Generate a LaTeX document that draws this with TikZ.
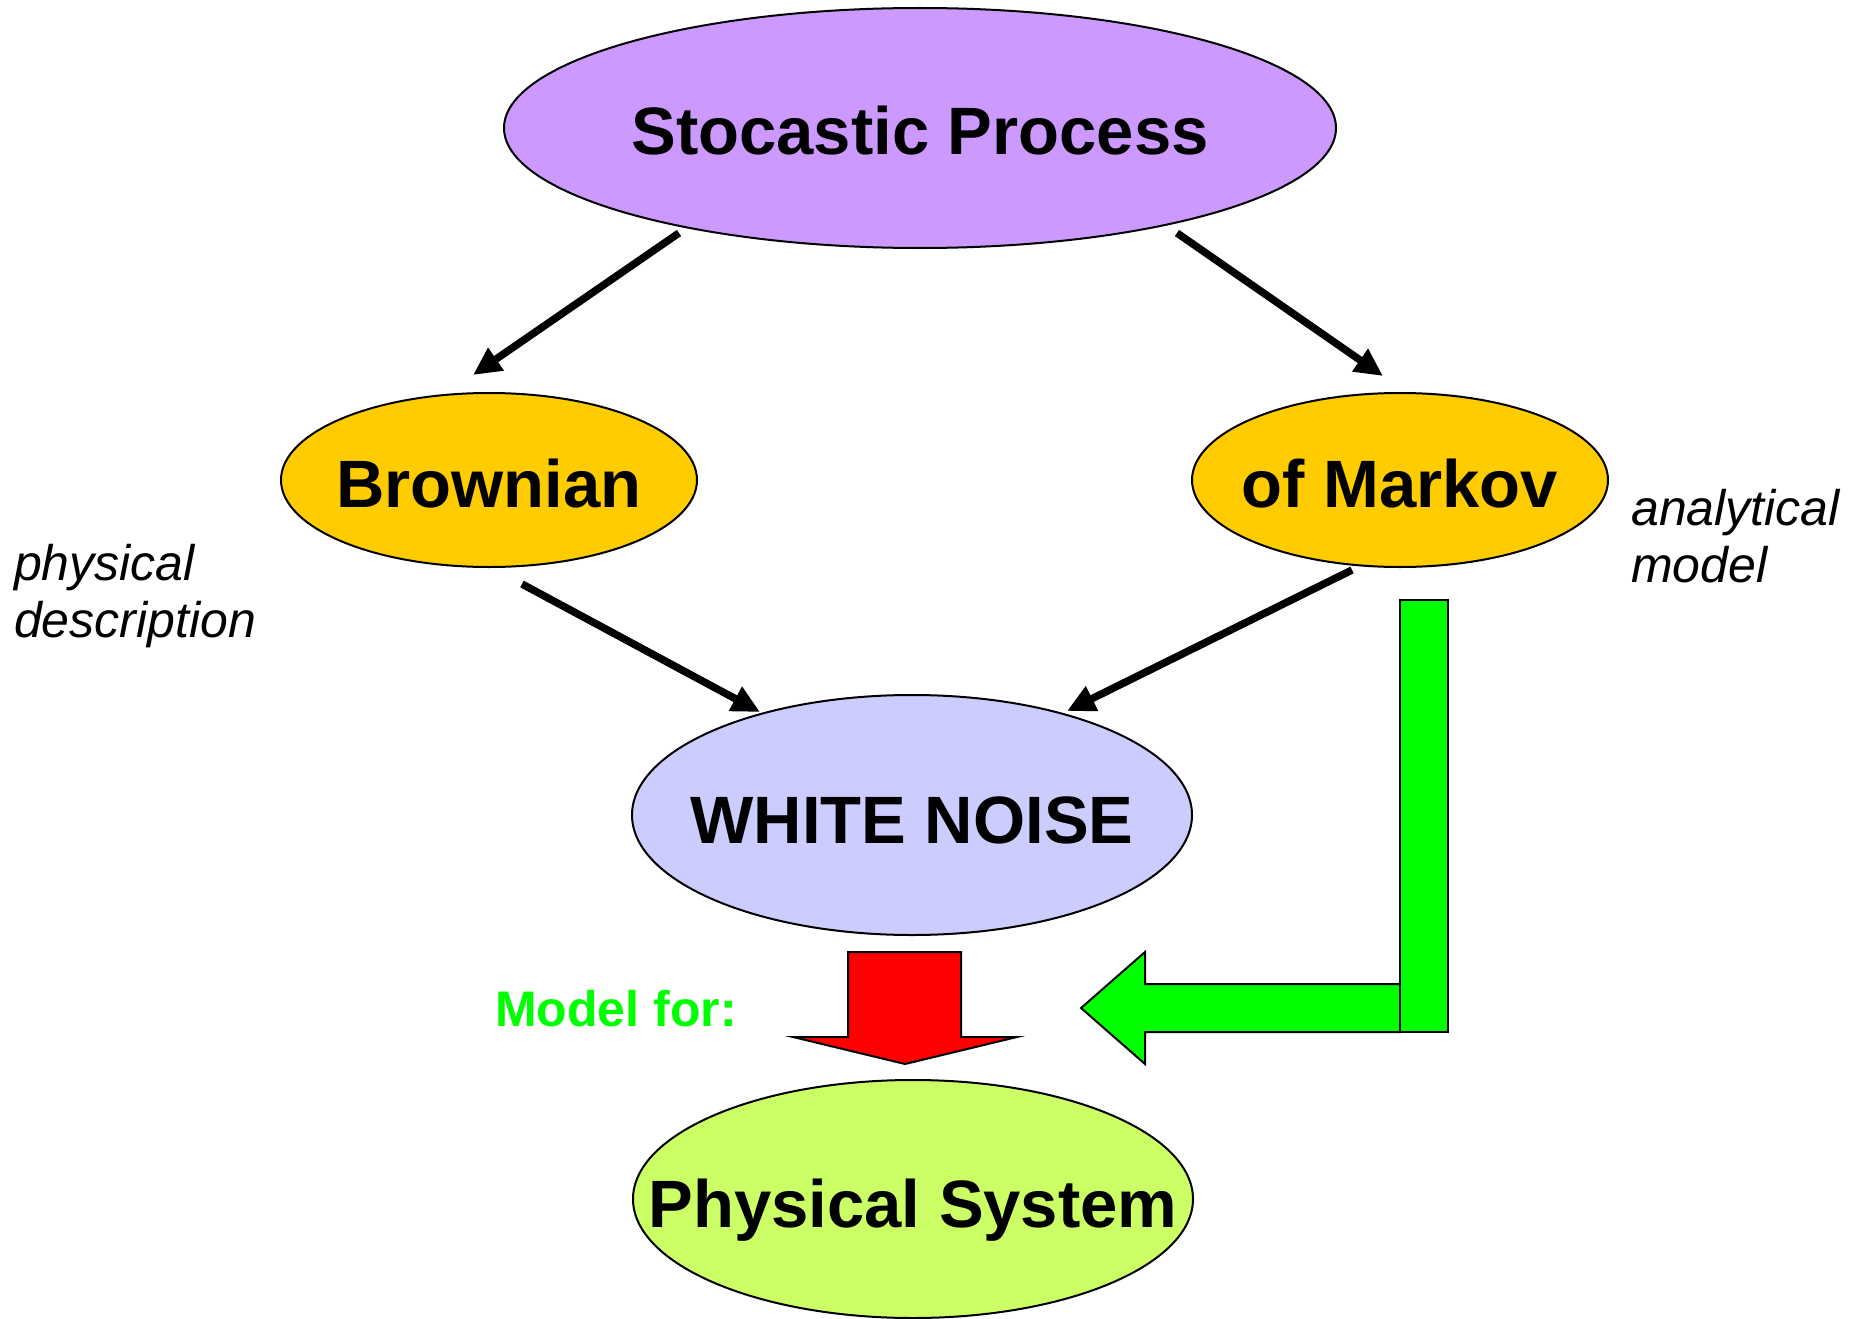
\documentclass[tikz,border=0pt]{standalone}
\usepackage{fontspec}
\setmainfont{Liberation Sans}
\usetikzlibrary{shapes.geometric,arrows.meta}
\definecolor{spfill}{RGB}{204,153,255}
\definecolor{orfill}{RGB}{255,204,0}
\definecolor{wnfill}{RGB}{204,204,255}
\definecolor{psfill}{RGB}{204,255,102}
\definecolor{gr}{RGB}{0,255,0}
\definecolor{rd}{RGB}{255,0,0}
\tikzset{
  oval/.style={ellipse, draw=black, line width=2pt, inner sep=0pt},
  lbl/.style={font=\fontsize{67}{80}\selectfont\bfseries, inner sep=0pt, anchor=base},
  conn/.style={line width=7.5pt, -{Triangle[length=28pt,width=26pt]}},
  note/.style={font=\fontsize{50}{57}\selectfont\itshape, align=left, inner sep=0pt, anchor=base west},
  fat/.style={draw=black, line width=2pt, line join=miter}
}
\begin{document}
\begin{tikzpicture}[x=1pt,y=-1pt]
\useasboundingbox (0,0) rectangle (1861,1319);
% nodes
\node[oval, fill=spfill, minimum width=832pt, minimum height=240pt] (sp) at (920,128) {};
\node[oval, fill=orfill, minimum width=416pt, minimum height=174pt] (br) at (489,480) {};
\node[oval, fill=orfill, minimum width=416pt, minimum height=174pt] (mk) at (1400,480) {};
\node[oval, fill=wnfill, minimum width=560pt, minimum height=240pt] (wn) at (912,815) {};
\node[oval, fill=psfill, minimum width=560pt, minimum height=238pt] (ps) at (913,1199) {};
\node[lbl] (spt) at (920,155) {Stocastic Process};
\node[lbl] (brt) at (489,507) {Brownian};
\node[lbl] (mkt) at (1400,507) {of Markov};
\node[lbl] (wnt) at (912,843) {WHITE NOISE};
\node[lbl] (pst) at (913,1227) {Physical System};
% notes
\node[note] (n1) at (14,637) {physical\\description};
\node[note] (n2) at (1631,582) {analytical\\model};
\node[font=\fontsize{50}{60}\selectfont\bfseries, text=gr, anchor=base west, inner sep=0pt] (mf) at (495,1026) {Model for:};
% connector end points
\coordinate (a1s) at (679,233); \coordinate (a1e) at (473,375);
\coordinate (a2s) at (1177,233); \coordinate (a2e) at (1383,376);
\coordinate (a3s) at (522,584); \coordinate (a3e) at (760,712);
\coordinate (a4s) at (1352,570); \coordinate (a4e) at (1067,711);
\draw[conn] (a1s) -- (a1e);
\draw[conn] (a2s) -- (a2e);
\draw[conn] (a3s) -- (a3e);
\draw[conn] (a4s) -- (a4e);
% red block arrow
\draw[fat, fill=rd] (848,952) -- (961,952) -- (961,1037) -- (1017,1037) -- (905,1064) -- (793,1037) -- (848,1037) -- cycle;
% green L arrow
\draw[fat, fill=gr] (1400,984) -- (1145,984) -- (1145,952) -- (1081,1008) -- (1145,1064) -- (1145,1032) -- (1400,1032) -- cycle;
\draw[fat, fill=gr] (1400,600) rectangle (1448,1032);
\end{tikzpicture}
\end{document}
